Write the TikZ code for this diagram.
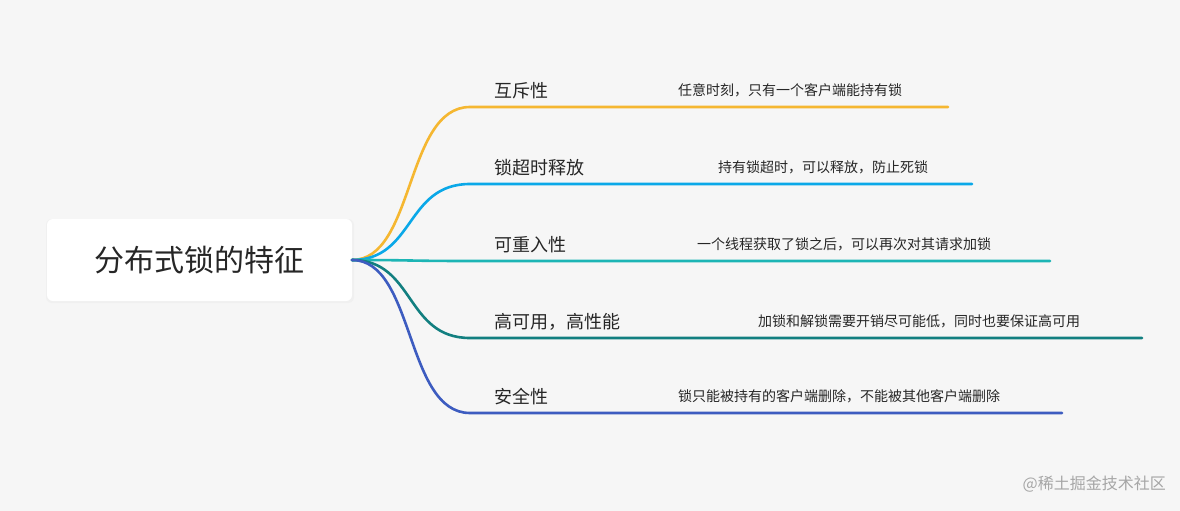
\documentclass[tikz,border=0pt]{standalone}
\usepackage{fontspec}
\setmainfont{Noto Sans CJK SC}
\begin{document}
\begin{tikzpicture}[x=1pt,y=-1pt,
  br/.style={line width=2.6pt,line cap=round},
  lab/.style={anchor=west,inner sep=0pt,font=\fontsize{18}{20}\selectfont,text=black!85},
  sub/.style={anchor=west,inner sep=0pt,font=\fontsize{14}{16}\selectfont,text=black!85}]
\definecolor{bg}{HTML}{F6F6F6}
\definecolor{c1}{HTML}{F5B731}
\definecolor{c2}{HTML}{0AA8E8}
\definecolor{c3}{HTML}{1DB5B5}
\definecolor{c4}{HTML}{127F80}
\definecolor{c5}{HTML}{3D5CC0}
\fill[bg] (0,0) rectangle (1180,511);
\useasboundingbox (0,0) rectangle (1180,511);
\fill[black!6,rounded corners=6pt] (46,219) rectangle (354,303);
\node[draw=none,fill=white,rounded corners=6pt,minimum width=305pt,minimum height=82pt,inner sep=0pt,
  font=\fontsize{30}{34}\selectfont,text=black!85] (root) at (199.5,260) {分布式锁的特征};
\coordinate (o) at (352,260);
\foreach \i/\y/\e/\lx/\sx/\l/\s in {
 c1/107/948/494/678/互斥性/任意时刻，只有一个客户端能持有锁,
 c2/184/972/494/718/锁超时释放/持有锁超时，可以释放，防止死锁,
 c3/261/1050/494/697/可重入性/一个线程获取了锁之后，可以再次对其请求加锁,
 c4/338/1142/494/758/高可用，高性能/加锁和解锁需要开销尽可能低，同时也要保证高可用,
 c5/413/1062/494/678/安全性/锁只能被持有的客户端删除，不能被其他客户端删除}{
  \coordinate (k\i) at (470,\y);
  \coordinate (e\i) at (\e,\y);
  \draw[br,\i] (o) .. controls (415,260) and (405,\y) .. (k\i) -- (e\i);
  \node[lab] (l\i) at (\lx,\y-16) {\l};
  \node[sub] (s\i) at (\sx,\y-17) {\s};
}
\node[anchor=east,inner sep=0pt,font=\fontsize{16}{18}\selectfont,text=black!35] (wm) at (1166,484) {@稀土掘金技术社区};
\end{tikzpicture}
\end{document}
